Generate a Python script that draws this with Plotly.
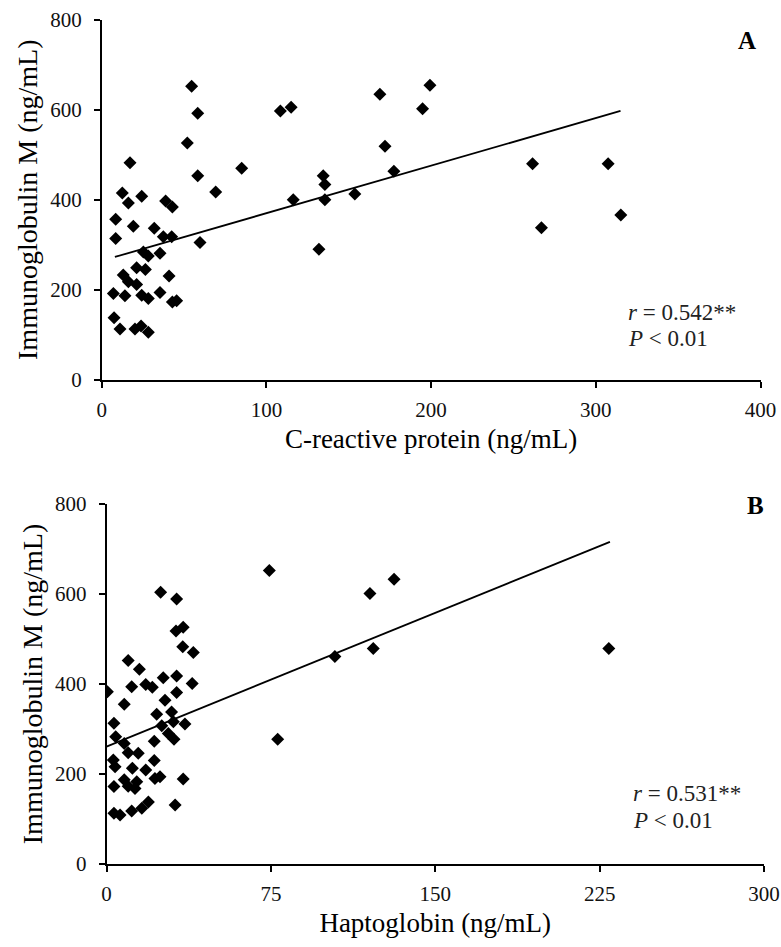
import plotly.graph_objects as go

# ---------------- Data ----------------
# Panel A: C-reactive protein vs Immunoglobulin M
crp_x = [54.6, 58.3, 108.5, 115.0, 52.0, 17.2, 85.0, 58.3, 69.2, 12.5, 16.2, 24.3,
         38.8, 42.9, 116.3, 8.5, 19.2, 31.9, 8.5, 37.4, 42.5, 59.7, 25.3, 28.3,
         35.4, 21.2, 26.5, 40.9, 13.1, 16.2, 21.2, 7.1, 14.1, 24.3, 28.3, 35.4,
         42.9, 45.5, 7.5, 11.1, 20.2, 23.9, 28.3,
         168.9, 199.3, 194.8, 172.0, 134.5, 135.5, 135.5, 153.7, 177.4, 261.6,
         307.5, 267.0, 315.2, 131.9]
igm_a = [652, 592, 597, 605, 526, 482, 470, 453, 417, 415, 393, 408,
         397, 384, 400, 357, 341, 337, 314, 318, 318, 305, 284, 275,
         281, 249, 245, 231, 233, 218, 212, 192, 187, 188, 181, 194,
         173, 176, 138, 113, 113, 120, 106,
         634, 654, 602, 519, 453, 434, 400, 413, 463, 480,
         480, 338, 366, 290]
fit_a_x = [8, 315]
fit_a_y = [273, 597]

# Panel B: Haptoglobin vs Immunoglobulin M
hp_x = [24.7, 32.0, 31.7, 35.0, 34.8, 39.6, 9.9, 15.0, 25.9, 32.0, 17.9, 20.9,
        11.5, 39.1, 0.4, 32.0, 26.7, 8.1, 22.9, 29.7, 30.5, 35.8, 3.4, 25.2,
        28.2, 4.2, 8.1, 30.8, 21.8, 9.9, 14.5, 3.1, 3.9, 21.8, 11.8, 17.9,
        8.1, 13.8, 22.1, 24.4, 35.0, 3.4, 9.9, 13.0, 19.1, 16.1, 31.3, 3.4,
        6.2, 11.5,
        74.3, 131.2, 120.2, 104.2, 121.7, 229.2, 78.1]
igm_b = [604, 589, 518, 526, 483, 470, 452, 433, 414, 418, 399, 393,
         394, 401, 383, 381, 364, 355, 333, 338, 316, 311, 313, 307,
         290, 283, 268, 277, 273, 247, 246, 231, 216, 230, 213, 209,
         187, 183, 190, 194, 189, 172, 173, 168, 138, 124, 131, 113,
         109, 118,
         652, 633, 601, 461, 479, 479, 277]
fit_b_x = [0, 229.7]
fit_b_y = [261, 716]

x_ticks_a = [0, 100, 200, 300, 400]
x_ticks_b = [0, 75, 150, 225, 300]
y_ticks = [0, 200, 400, 600, 800]

# ---------------- Figure ----------------
W, H = 781, 947
FONT = "Liberation Serif"

fig = go.Figure()

marker = dict(symbol="diamond", size=10, color="black", line=dict(width=0))

fig.add_trace(go.Scatter(x=crp_x, y=igm_a, mode="markers", marker=marker,
                         xaxis="x", yaxis="y", showlegend=False))
fig.add_trace(go.Scatter(x=fit_a_x, y=fit_a_y, mode="lines",
                         line=dict(color="black", width=1.8),
                         xaxis="x", yaxis="y", showlegend=False))
fig.add_trace(go.Scatter(x=hp_x, y=igm_b, mode="markers", marker=marker,
                         xaxis="x2", yaxis="y2", showlegend=False))
fig.add_trace(go.Scatter(x=fit_b_x, y=fit_b_y, mode="lines",
                         line=dict(color="black", width=1.8),
                         xaxis="x2", yaxis="y2", showlegend=False))

axis_common = dict(showgrid=False, zeroline=False, showline=True,
                   linecolor="black", linewidth=1.5, ticks="outside",
                   ticklen=6, tickcolor="black", tickwidth=1.5,
                   automargin=False,
                   tickfont=dict(family=FONT, size=21, color="#111111"))

def px_x(p):
    return p / W

def px_y(p):
    return 1 - p / H

fig.update_layout(
    width=W, height=H,
    margin=dict(l=0, r=0, t=0, b=0),
    paper_bgcolor="white", plot_bgcolor="white",
    font=dict(family=FONT, color="black"),
    xaxis=dict(**axis_common, domain=[px_x(101.7), px_x(760.5)],
               range=[0, 400], tickvals=x_ticks_a, anchor="y",
               ticklabelstandoff=4,
               title=dict(text="C-reactive protein (ng/mL)",
                          font=dict(family=FONT, size=27), standoff=8)),
    yaxis=dict(**axis_common, domain=[px_y(380), px_y(19.5)],
               range=[0, 800], tickvals=y_ticks, anchor="x",
               ticklabelstandoff=8,
               title=dict(text="Immunoglobulin M (ng/mL)",
                          font=dict(family=FONT, size=28), standoff=4)),
    xaxis2=dict(**axis_common, domain=[px_x(106.5), px_x(764)],
                range=[0, 300], tickvals=x_ticks_b, anchor="y2",
                ticklabelstandoff=4,
                title=dict(text="Haptoglobin (ng/mL)",
                           font=dict(family=FONT, size=27), standoff=8)),
    yaxis2=dict(**axis_common, domain=[px_y(864), px_y(504)],
                range=[0, 800], tickvals=y_ticks, anchor="x2",
                ticklabelstandoff=8,
                title=dict(text="Immunoglobulin M (ng/mL)",
                           font=dict(family=FONT, size=28), standoff=4)),
)

ann_font = dict(family=FONT, size=23, color="#222222")
common_ann = dict(xref="paper", yref="paper", showarrow=False, yanchor="middle")
annotations = [
    dict(text="<b>A</b>", x=px_x(746.7), y=px_y(40), xanchor="center",
         font=dict(family=FONT, size=25, color="black"), **common_ann),
    dict(text="<b>B</b>", x=px_x(755), y=px_y(506), xanchor="center",
         font=dict(family=FONT, size=25, color="black"), **common_ann),
    dict(text="<i>r</i> = 0.542**", x=px_x(626), y=px_y(312), xanchor="left",
         font=ann_font, **common_ann),
    dict(text="<i>P</i> &lt; 0.01", x=px_x(626), y=px_y(338), xanchor="left",
         font=ann_font, **common_ann),
    dict(text="<i>r</i> = 0.531**", x=px_x(631), y=px_y(793), xanchor="left",
         font=ann_font, **common_ann),
    dict(text="<i>P</i> &lt; 0.01", x=px_x(631), y=px_y(820), xanchor="left",
         font=ann_font, **common_ann),
]
fig.update_layout(annotations=annotations)

fig.write_html("out.html",
               config={"displayModeBar": False},
               post_script="document.body.style.margin='0px';document.body.style.overflow='hidden';")
